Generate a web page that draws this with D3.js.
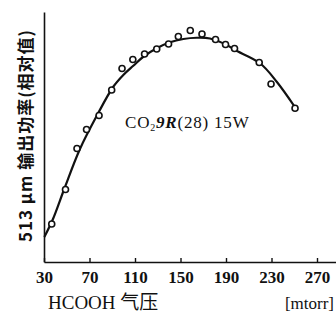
<!DOCTYPE html>
<html><head><meta charset="utf-8">
<script src="https://cdn.jsdelivr.net/npm/d3@7"></script>
<style>
html,body{margin:0;padding:0;background:#fff;}
svg{display:block;}
</style></head>
<body>
<svg id="c" width="336" height="324"></svg>
<script>
// HCOOH pressure [mtorr] of measured points
const pressure = [36.8, 48.9, 59.0, 67.4, 78.4, 89.5, 98.6, 108.1, 118.4, 129.1, 139.5, 148.1, 158.6, 168.9, 180.8, 189.6, 197.5, 219.2, 229.6, 250.7];
// relative 513 µm output power of measured points
const power = [15.2, 29.0, 45.4, 53.0, 58.6, 68.8, 77.4, 81.0, 83.2, 85.2, 87.2, 90.2, 92.6, 91.2, 89.0, 87.0, 85.4, 79.8, 71.2, 61.5];
// fitted curve
const curvePressure = [30.3, 37.9, 47.8, 61.6, 76.3, 90.9, 99.7, 108.5, 117.3, 129.1, 140.8, 152.5, 164.2, 175.9, 190.6, 197.9, 219.9, 234.6, 250.7];
const curvePower = [10.0, 17.2, 29.2, 45.2, 58.4, 70.1, 74.8, 78.5, 82.1, 85.5, 87.9, 89.2, 89.7, 89.4, 86.8, 84.8, 79.5, 72.1, 61.9];
const xTicks = [30, 70, 110, 150, 190, 230, 270];

const svg = d3.select("#c");
const x = d3.scaleLinear().domain([30, 286.7]).range([44, 336]);
const y = d3.scaleLinear().domain([0, 100]).range([262, 12]);

// x axis
const xa = svg.append("g").attr("transform", "translate(0,262)")
  .call(d3.axisBottom(x).tickValues(xTicks).tickSizeInner(-4).tickSizeOuter(0).tickPadding(9));
xa.select(".domain").attr("stroke", "#111").attr("stroke-width", 1.6);
xa.selectAll(".tick line").attr("stroke", "#111").attr("stroke-width", 1.4);
xa.selectAll(".tick text").attr("font-family", "'Liberation Serif', serif").attr("font-weight", "bold")
  .attr("font-size", 17).attr("fill", "#111");

// y axis
const ya = svg.append("g").attr("transform", "translate(44,0)")
  .call(d3.axisLeft(y).tickValues([]).tickSizeOuter(0));
ya.select(".domain").attr("stroke", "#111").attr("stroke-width", 1.6);

// fitted curve
const curveData = curvePressure.map((p, i) => [p, curvePower[i]]);
svg.append("path").datum(curveData)
  .attr("d", d3.line().x(d => x(d[0])).y(d => y(d[1])).curve(d3.curveCatmullRom.alpha(0.5)))
  .attr("fill", "none").attr("stroke", "#111").attr("stroke-width", 2.2);

// points
svg.append("g").selectAll("circle").data(pressure.map((p, i) => [p, power[i]])).join("circle")
  .attr("cx", d => x(d[0])).attr("cy", d => y(d[1])).attr("r", 3)
  .attr("fill", "#fff").attr("stroke", "#111").attr("stroke-width", 1.6);

// annotation
const ann = svg.append("text").attr("x", 125).attr("y", 128)
  .attr("font-family", "'Liberation Serif', serif").attr("font-size", 17).attr("fill", "#111")
  .attr("letter-spacing", 0.8);
ann.append("tspan").text("CO");
ann.append("tspan").attr("font-size", 10).attr("dy", 3).text("2");
ann.append("tspan").attr("dy", -3).attr("font-style", "italic").attr("font-weight", "bold").text("9R");
ann.append("tspan").text("(28) 15W");

// y label
svg.append("text").attr("transform", "translate(32,136) rotate(-90)")
  .attr("text-anchor", "middle")
  .attr("font-family", "'Noto Sans CJK SC', 'Liberation Serif', serif").attr("font-weight", "bold")
  .attr("font-size", 17).attr("fill", "#111")
  .attr("textLength", 212).attr("lengthAdjust", "spacing")
  .text("513 μm 输出功率(相对值)");

// x label
svg.append("text").attr("x", 48).attr("y", 309)
  .attr("font-family", "'Liberation Serif', 'Noto Sans CJK SC', serif").attr("font-size", 19).attr("fill", "#111")
  .text("HCOOH 气压");
svg.append("text").attr("x", 334).attr("y", 309).attr("text-anchor", "end")
  .attr("font-family", "'Liberation Serif', serif").attr("font-size", 17).attr("fill", "#111")
  .text("[mtorr]");
</script>
</body></html>
